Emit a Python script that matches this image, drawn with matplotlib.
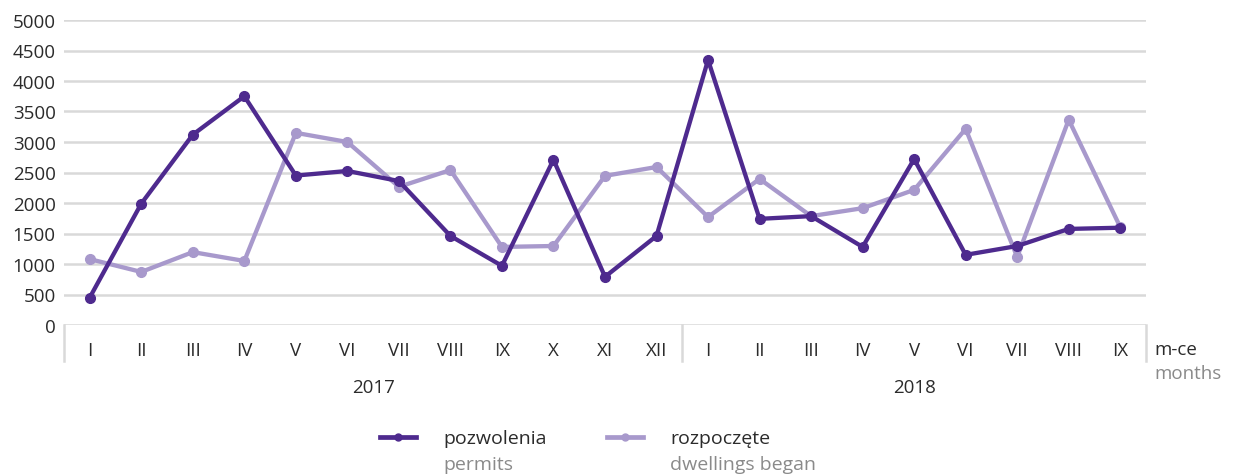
import matplotlib.pyplot as plt
from matplotlib.lines import Line2D
from matplotlib.transforms import blended_transform_factory

plt.rcParams['font.family'] = ['Open Sans', 'DejaVu Sans']

# ---------------------------------------------------------------------------
# Data
# ---------------------------------------------------------------------------
months = ["I", "II", "III", "IV", "V", "VI", "VII", "VIII", "IX", "X", "XI", "XII",
          "I", "II", "III", "IV", "V", "VI", "VII", "VIII", "IX"]
years = ["2017", "2018"]
year_len = [12, 9]

permits = [450, 1990, 3120, 3750, 2450, 2525, 2360, 1460, 970, 2710, 790, 1460,
           4345, 1740, 1785, 1280, 2720, 1150, 1295, 1575, 1595]
began = [1080, 870, 1195, 1050, 3150, 3000, 2265, 2540, 1280, 1295, 2445, 2590,
         1770, 2395, 1785, 1915, 2215, 3215, 1115, 3365, 1605]

DARK = "#4e2a8e"
LIGHT = "#a899cc"
GRID = "#d9d9d9"
TEXT = "#2b2b2b"
SUB = "#8a8a8a"
FS = 13.5

W, H = 1235, 477
fig = plt.figure(figsize=(W / 100, H / 100), dpi=100)
ax = fig.add_axes([64 / W, 1 - 326 / H, (1146 - 64) / W, (326 - 21) / H])

x = list(range(len(months)))
ax.plot(x, permits, "-o", color=DARK, lw=3.1, ms=7, zorder=3)
ax.plot(x, began, "-o", color=LIGHT, lw=3.1, ms=7, zorder=2)

ax.set_xlim(-0.5, len(months) - 0.5)
ax.set_ylim(0, 5000)
ax.set_yticks(range(0, 5001, 500))
ax.yaxis.grid(True, color=GRID, lw=1.8)
ax.set_axisbelow(True)
ax.tick_params(axis="y", length=0, pad=6, labelsize=FS, labelcolor=TEXT)
ax.set_xticks([])
for s in ax.spines.values():
    s.set_visible(False)

# category box under the plot
tr = blended_transform_factory(ax.transData, ax.transAxes)
drop = -36 / (326 - 21)
bounds = [-0.5]
for n in year_len:
    bounds.append(bounds[-1] + n)
for b in bounds:
    ax.add_line(Line2D([b, b], [0, drop], transform=tr, color=GRID, lw=1.8, clip_on=False))

for i, m in enumerate(months):
    ax.text(i, -25 / 305, m, transform=tr, ha="center", va="center",
            fontsize=FS, color=TEXT)
for k, yr in enumerate(years):
    ax.text((bounds[k] + bounds[k + 1]) / 2, -62 / 305, yr, transform=tr,
            ha="center", va="center", fontsize=FS, color=TEXT)

fig.text(1154 / W, 1 - 350 / H, "m-ce", ha="left", va="center", fontsize=FS, color=TEXT)
fig.text(1154 / W, 1 - 374 / H, "months", ha="left", va="center", fontsize=FS, color=SUB)

# legend, drawn by hand
legend = [(380, DARK, "pozwolenia", "permits"),
          (607, LIGHT, "rozpoczęte", "dwellings began")]
for x0, col, pl, en in legend:
    fig.add_artist(Line2D([x0 / W, (x0 + 36) / W], [1 - 438 / H] * 2, color=col, lw=3.4,
                          transform=fig.transFigure))
    fig.add_artist(Line2D([(x0 + 18) / W], [1 - 438 / H], color=col, marker="o", ms=5,
                          transform=fig.transFigure))
    fig.text((x0 + 63) / W, 1 - 439 / H, pl, ha="left", va="center", fontsize=14, color=TEXT)
    fig.text((x0 + 63) / W, 1 - 465 / H, en, ha="left", va="center", fontsize=14, color=SUB)

fig.savefig("out.png", dpi=100)
